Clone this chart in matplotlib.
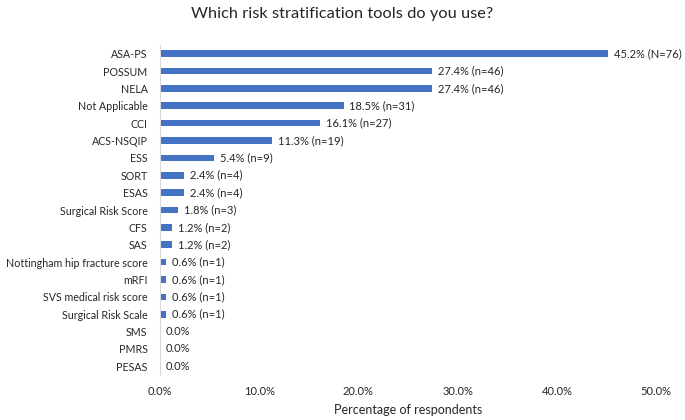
import matplotlib
matplotlib.use("Agg")
import matplotlib.pyplot as plt
from matplotlib.ticker import FuncFormatter

categories = ["ASA-PS", "POSSUM", "NELA", "Not Applicable", "CCI", "ACS-NSQIP", "ESS",
              "SORT", "ESAS", "Surgical Risk Score", "CFS", "SAS",
              "Nottingham hip fracture score", "mRFI", "SVS medical risk score",
              "Surgical Risk Scale", "SMS", "PMRS", "PESAS"]
percent = [45.2, 27.4, 27.4, 18.5, 16.1, 11.3, 5.4, 2.4, 2.4, 1.8, 1.2, 1.2,
           0.6, 0.6, 0.6, 0.6, 0.0, 0.0, 0.0]
labels = ["45.2% (N=76)", "27.4% (n=46)", "27.4% (n=46)", "18.5% (n=31)", "16.1% (n=27)",
          "11.3% (n=19)", "5.4% (n=9)", "2.4% (n=4)", "2.4% (n=4)", "1.8% (n=3)",
          "1.2% (n=2)", "1.2% (n=2)", "0.6% (n=1)", "0.6% (n=1)", "0.6% (n=1)",
          "0.6% (n=1)", "0.0%", "0.0%", "0.0%"]
xticks = [0, 10, 20, 30, 40, 50]

plt.rcParams['font.family'] = ['Lato', 'DejaVu Sans']
txt = '#262626'

fig = plt.figure(figsize=(6.85, 4.2), dpi=100)
ax = fig.add_axes([0.2336, 0.107, 0.7241, 0.786])
y = list(range(len(categories)))
ax.barh(y, percent, height=0.38, color='#4472C4')
for yi, v, lab in zip(y, percent, labels):
    ax.text(v + 0.6, yi, lab, va='center', ha='left', fontsize=8, color=txt)
ax.set_ylim(len(categories) - 0.5, -0.5)
ax.set_xlim(0, 50)
ax.set_yticks(y)
ax.set_yticklabels(categories, fontsize=7.7, color=txt)
ax.set_xticks(xticks)
ax.xaxis.set_major_formatter(FuncFormatter(lambda v, p: f"{v:.1f}%"))
ax.tick_params(axis='x', labelsize=8, colors=txt, length=0, pad=8)
ax.tick_params(axis='y', length=0, pad=9)
for s in ['top', 'right', 'bottom']:
    ax.spines[s].set_visible(False)
ax.spines['left'].set_color('#d9d9d9')
ax.spines['left'].set_linewidth(0.8)
ax.set_xlabel("Percentage of respondents", fontsize=9, color=txt, labelpad=5)
fig.text(0.5, 0.967, "Which risk stratification tools do you use?", ha='center', va='center',
         fontsize=11.8, color=txt)
fig.savefig("out.png", dpi=100)
